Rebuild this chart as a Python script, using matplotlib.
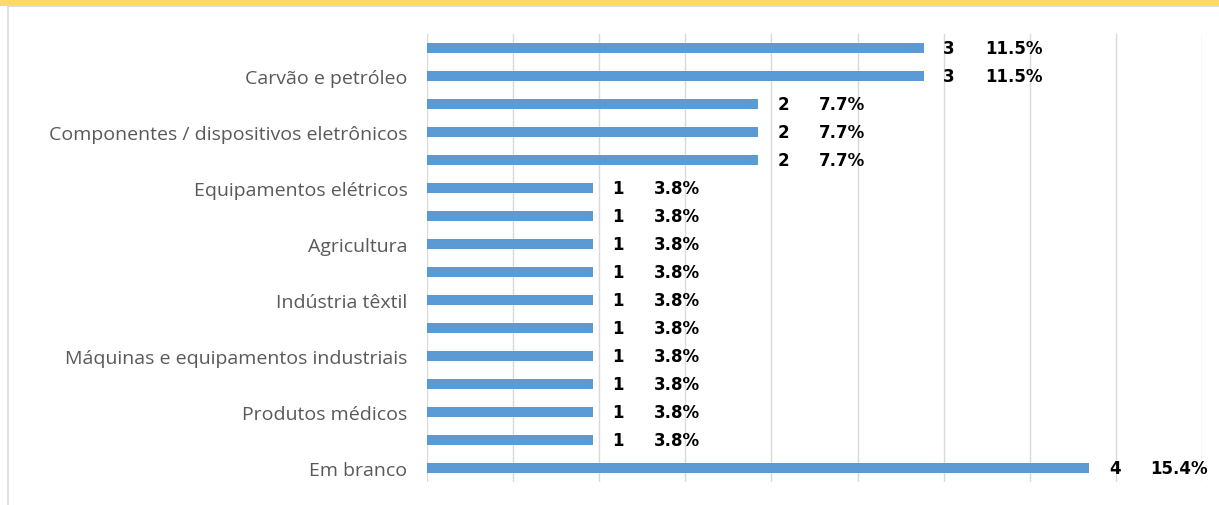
#!/usr/bin/env python3
"""Barras horizontais: setores (contagem e percentual)."""

import matplotlib
matplotlib.use("Agg")
import matplotlib.pyplot as plt
from matplotlib.patches import Rectangle

# categorias de cima para baixo; as vazias não têm rótulo visível no original
categories = [
    "", "Carvão e petróleo",
    "", "Componentes / dispositivos eletrônicos",
    "", "Equipamentos elétricos",
    "", "Agricultura",
    "", "Indústria têxtil",
    "", "Máquinas e equipamentos industriais",
    "", "Produtos médicos",
    "", "Em branco",
]
counts = [3, 3, 2, 2, 2, 1, 1, 1, 1, 1, 1, 1, 1, 1, 1, 4]
percents = ["11.5%", "11.5%", "7.7%", "7.7%", "7.7%", "3.8%", "3.8%", "3.8%",
            "3.8%", "3.8%", "3.8%", "3.8%", "3.8%", "3.8%", "3.8%", "15.4%"]

total = sum(counts)
grid_step = 0.02 * total      # grade a cada 2%
x_max = 0.18 * total

plt.rcParams["font.family"] = ["Open Sans", "DejaVu Sans"]

fig = plt.figure(figsize=(12.19, 5.06), dpi=100)

# faixa amarela do título (cortada) e moldura do gráfico
fig.patches.append(Rectangle((0, 1 - 7 / 506), 1, 7 / 506, transform=fig.transFigure,
                             facecolor="#FFD966", edgecolor="none", zorder=-3))
fig.patches.append(Rectangle((8 / 1219, -0.1), 1.2, 1 - 7 / 506 + 0.1,
                             transform=fig.transFigure, facecolor="white",
                             edgecolor="#D9D9D9", linewidth=1.2, zorder=-2))

ax = fig.add_axes([427 / 1219, 1 - 483 / 506, 775 / 1219, 448 / 506])
ax.set_facecolor("none")

y = list(range(len(counts)))
ax.barh(y, counts, height=0.38, color="#5B9BD5", zorder=3)

for yi, c, p in zip(y, counts, percents):
    ax.annotate(str(c), (c, yi), xytext=(14, 0), textcoords="offset points",
                ha="left", va="center", fontsize=12, fontweight="bold",
                color="black", family="DejaVu Sans")
    ax.annotate(p, (c, yi), xytext=(44, 0), textcoords="offset points",
                ha="left", va="center", fontsize=12, fontweight="bold",
                color="black", family="DejaVu Sans")

ax.set_ylim(len(counts) - 0.5, -0.5)
ax.set_xlim(0, x_max)
ax.set_xticks([grid_step * k for k in range(10)])
ax.set_xticklabels([])
ax.set_yticks(y)
ax.set_yticklabels(categories, fontsize=14, color="#595959")
ax.tick_params(length=0, pad=14)
ax.grid(axis="x", color="#D9D9D9", linewidth=1, zorder=0)
for s in ax.spines.values():
    s.set_visible(False)

fig.savefig("out.png", dpi=100)
